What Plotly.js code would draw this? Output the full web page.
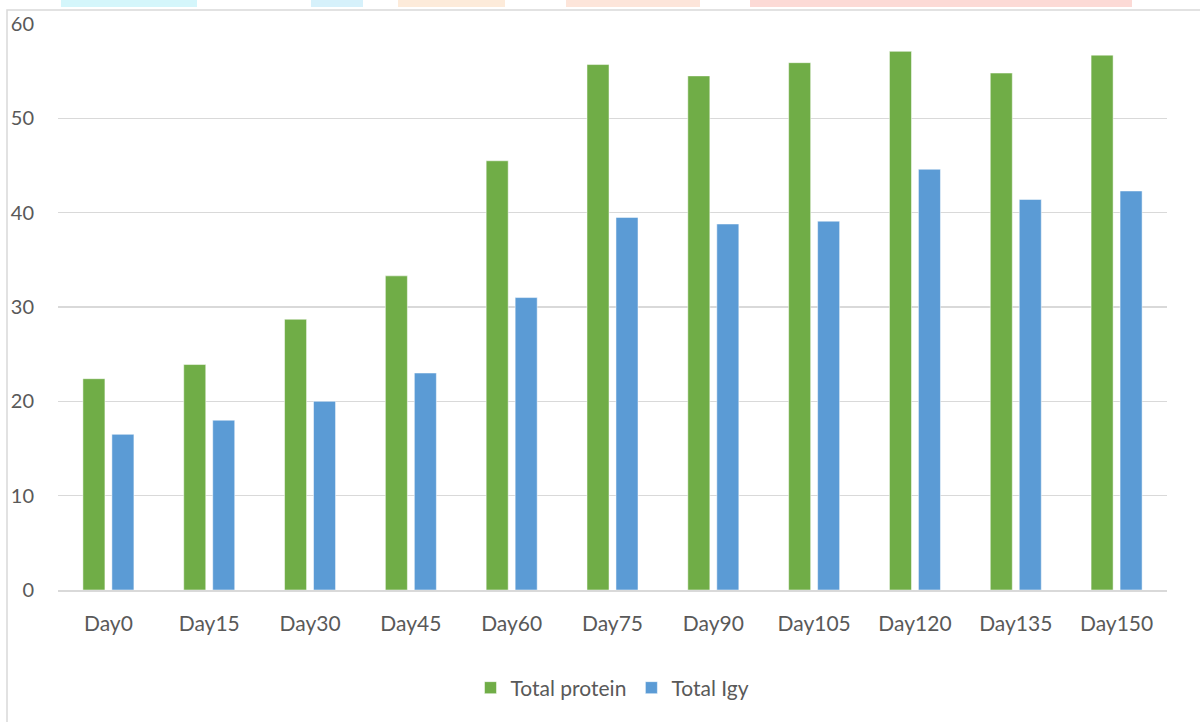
<!DOCTYPE html>
<html>
<head>
<meta charset="utf-8">
<script src="https://cdn.plot.ly/plotly-3.0.1.min.js"></script>
<style>html,body{margin:0;padding:0;background:#fff;}#chart{width:1200px;height:722px;}</style>
</head>
<body>
<div id="chart"></div>
<script>
const categories = ["Day0","Day15","Day30","Day45","Day60","Day75","Day90","Day105","Day120","Day135","Day150"];
const totalProtein = [22.4, 23.9, 28.7, 33.3, 45.5, 55.7, 54.5, 55.9, 57.1, 54.8, 56.7];
const totalIgy = [16.5, 18.0, 20.0, 23.0, 31.0, 39.5, 38.8, 39.1, 44.6, 41.4, 42.3];
const seriesNames = ["Total protein", "Total Igy"];
const yTicks = [0, 10, 20, 30, 40, 50, 60];

const textColor = "#595959";
const gridColor = "#D9D9D9";
const fontFam = "Lato, 'Open Sans', sans-serif";

const traces = [
  {type:"bar", name:seriesNames[0], x:categories, y:totalProtein,
   marker:{color:"#70AD47", line:{color:"#ffffff", width:0.5}}},
  {type:"bar", name:seriesNames[1], x:categories, y:totalIgy,
   marker:{color:"#5B9BD5", line:{color:"#ffffff", width:0.5}}}
];

const W = 1200, H = 722, L = 58, R = 33, T = 24, B = 132;
const pw = W - L - R, ph = H - T - B;
function px(x){return (x - L)/pw;}
function py(y){return (H - B - y)/ph;}

const deco = [
  [61,197,"#D4F6FB"],[311,363,"#D6F1FB"],[398,505,"#FDEBDA"],[566,700,"#FDE5DA"],[750,1132,"#FCDAD6"]
].map(d => ({type:"rect", xref:"paper", yref:"paper", x0:px(d[0]), x1:px(d[1]), y0:py(7), y1:py(0),
  fillcolor:d[2], line:{width:0}, layer:"below"}));

const layout = {
  width: W, height: H,
  margin:{l:L, r:R, t:T, b:B},
  paper_bgcolor:"#ffffff", plot_bgcolor:"#ffffff",
  font:{family:fontFam, size:21, color:textColor},
  barmode:"group", bargap:0.425, bargroupgap:0.24,
  showlegend:true,
  legend:{orientation:"h", x:0.5, xanchor:"center", y:py(688), yanchor:"middle",
          font:{family:fontFam, size:21, color:textColor}, itemwidth:30, traceorder:"normal"},
  xaxis:{type:"category", showgrid:false, showline:true, linecolor:gridColor, linewidth:1.5,
         ticks:"", ticklabelstandoff:14, tickfont:{family:fontFam, size:21, color:textColor}, fixedrange:true},
  yaxis:{range:[0,60], tickvals:yTicks, ticktext:yTicks.map(String), showgrid:true, gridcolor:gridColor, gridwidth:1.5,
         zeroline:false, showline:false, ticks:"", ticklabelstandoff:23,
         tickfont:{family:fontFam, size:20, color:textColor}, fixedrange:true},
  shapes: deco.concat([
    {type:"rect", xref:"paper", yref:"paper", x0:px(7), x1:px(1210), y0:py(740), y1:py(10),
     line:{color:gridColor, width:1.5}, fillcolor:"rgba(0,0,0,0)", layer:"below"}
  ])
};

Plotly.newPlot("chart", traces, layout, {displayModeBar:false, staticPlot:true});
</script>
</body>
</html>
